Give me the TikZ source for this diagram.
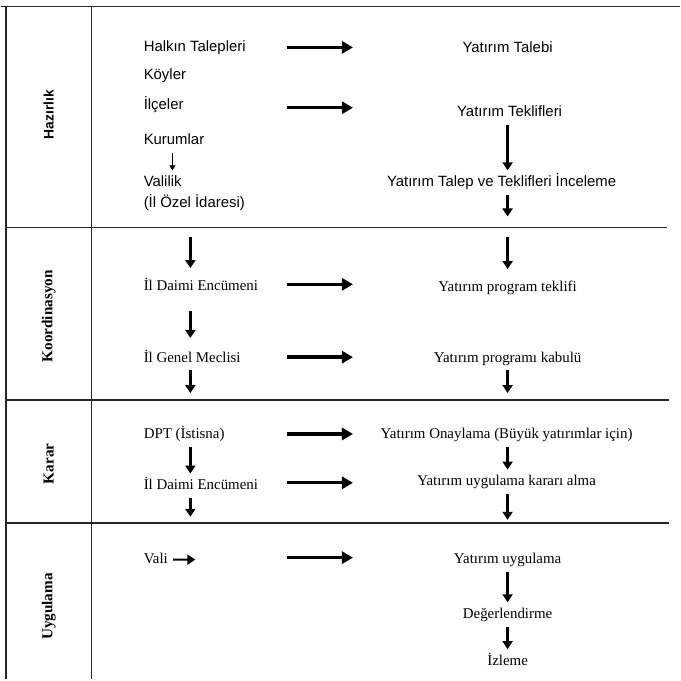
\documentclass[tikz,border=0pt]{standalone}
\usepackage{fontspec}
\setmainfont{Liberation Serif}
\newfontfamily\arialfont{Liberation Sans}
\usetikzlibrary{arrows.meta}

\tikzset{
  rule/.style={line width=1.2pt, black!85},
  harrow/.style={line width=2.4pt, -{Triangle[length=0.11in,width=0.12in]}},
  varrow/.style={line width=2.1pt, -{Triangle[length=0.08in,width=0.1in]}},
  smallarrow/.style={line width=1pt, -{Triangle[length=0.05in,width=0.06in]}},
  lbl/.style={inner sep=0.05in, text height=0.11in, text depth=0.03in,
    font=\fontsize{10.8}{13}\selectfont},
  sanslbl/.style={lbl, font=\arialfont\fontsize{10.8}{13}\selectfont},
  phase/.style={rotate=90, inner sep=0pt, font=\bfseries\fontsize{11}{13}\selectfont},
  sansphase/.style={rotate=90, inner sep=0pt, font=\arialfont\bfseries\fontsize{10}{12}\selectfont}
}

\begin{document}
\begin{tikzpicture}[x=1in,y=1in]
\path (0,0) -- (6.81,-6.81);
% table rules
\draw[rule] (0.00,-0.065) -- (6.81,-0.065);
\draw[rule] (0.05,-0.065) -- (0.05,-6.81);
\draw[rule] (0.91,-0.065) -- (0.91,-6.81);
\draw[rule] (0.05,-2.28) -- (6.68,-2.28);
\draw[rule] (0.05,-4.01) -- (6.70,-4.01);
\draw[rule] (0.05,-5.24) -- (6.70,-5.24);

% phase names
\node[sansphase] (hazirlik) at (0.48,-1.15) {Hazırlık};
\node[phase] (koord) at (0.48,-3.17) {Koordinasyon};
\node[phase] (karar) at (0.48,-4.65) {Karar};
\node[phase] (uygulama) at (0.48,-6.08) {Uygulama};

% column axes
\coordinate (lax) at (1.90,0);
\coordinate (kax) at (1.72,0);
\coordinate (rax) at (5.08,0);

% Hazirlik
\node[sanslbl, anchor=base west] (halk) at (1.38,-0.52) {Halkın Talepleri};
\node[sanslbl, anchor=base west] (koyler) at (1.38,-0.80) {Köyler};
\node[sanslbl, anchor=base west] (ilceler) at (1.38,-1.10) {İlçeler};
\node[sanslbl, anchor=base west] (kurumlar) at (1.38,-1.45) {Kurumlar};
\node[sanslbl, anchor=base west] (valilik) at (1.38,-1.87) {Valilik};
\node[sanslbl, anchor=base west] (ozel) at (1.38,-2.08) {(İl Özel İdaresi)};
\node[sanslbl, anchor=base] (talebi) at (5.08,-0.53) {Yatırım Talebi};
\node[sanslbl, anchor=base] (teklif) at (5.10,-1.17) {Yatırım Teklifleri};
\node[sanslbl, anchor=base] (incele) at (5.02,-1.87) {Yatırım Talep ve Teklifleri İnceleme};

% Koordinasyon
\node[lbl, anchor=base west] (daimiA) at (1.38,-2.91) {İl Daimi Encümeni};
\node[lbl, anchor=base west] (meclis) at (1.38,-3.63) {İl Genel Meclisi};
\node[lbl, anchor=base] (progtek) at (5.08,-2.92) {Yatırım program teklifi};
\node[lbl, anchor=base] (kabul) at (5.08,-3.63) {Yatırım programı kabulü};

% Karar
\node[lbl, anchor=base west] (dpt) at (1.38,-4.40) {DPT (İstisna)};
\node[lbl, anchor=base west] (daimiB) at (1.38,-4.91) {İl Daimi Encümeni};
\node[lbl, anchor=base] (onay) at (5.07,-4.40) {Yatırım Onaylama (Büyük yatırımlar için)};
\node[lbl, anchor=base] (kararal) at (5.07,-4.87) {Yatırım uygulama kararı alma};

% Uygulama
\node[lbl, anchor=base west] (vali) at (1.38,-5.65) {Vali};
\node[lbl, anchor=base] (uygula) at (5.08,-5.65) {Yatırım uygulama};
\node[lbl, anchor=base] (degerl) at (5.08,-6.20) {Değerlendirme};
\node[lbl, anchor=base] (izle) at (5.08,-6.67) {İzleme};

% free arrow ends
\coordinate (hs1) at (2.87,-0.475); \coordinate (he1) at (3.53,-0.475);
\coordinate (hs2) at (2.87,-1.08); \coordinate (he2) at (3.53,-1.08);
\coordinate (hs3) at (2.87,-2.85); \coordinate (he3) at (3.53,-2.85);
\coordinate (hs4) at (2.87,-3.58); \coordinate (he4) at (3.53,-3.58);
\coordinate (hs5) at (2.87,-4.35); \coordinate (he5) at (3.53,-4.35);
\coordinate (hs6) at (2.87,-4.84); \coordinate (he6) at (3.53,-4.84);
\coordinate (hs7) at (2.87,-5.59); \coordinate (he7) at (3.53,-5.59);
\coordinate (l2top) at (1.90,-2.38);
\coordinate (l2bot) at (1.90,-3.94);
\coordinate (l3bot) at (1.90,-5.18);
\coordinate (r1bot) at (5.08,-2.17);
\coordinate (r2top) at (5.08,-2.38);
\coordinate (r2bot) at (5.08,-3.94);
\coordinate (r3bot) at (5.08,-5.21);
\coordinate (valiend) at (1.95,-5.61);

% horizontal arrows
\draw[harrow] (hs1) -- (he1);
\draw[harrow] (hs2) -- (he2);
\draw[harrow] (hs3) -- (he3);
\draw[harrow] (hs4) -- (he4);
\draw[harrow] (hs5) -- (he5);
\draw[harrow] (hs6) -- (he6);
\draw[harrow] (hs7) -- (he7);

% left column arrows
\draw[smallarrow] (kurumlar.south -| kax) -- (valilik.north -| kax);
\draw[varrow] (l2top) -- ([yshift=0.06in]daimiA.north -| lax);
\draw[varrow, shorten <=0.12in, shorten >=0.08in] (daimiA.south -| lax) -- (meclis.north -| lax);
\draw[varrow] (meclis.south -| lax) -- (l2bot);
\draw[varrow] (dpt.south -| lax) -- (daimiB.north -| lax);
\draw[varrow] (daimiB.south -| lax) -- (l3bot);
\draw[varrow, line width=1.6pt] (vali.east) -- (valiend);

% right column arrows
\draw[varrow] (teklif.south -| rax) -- (incele.north -| rax);
\draw[varrow] (incele.south -| rax) -- (r1bot);
\draw[varrow] (r2top) -- ([yshift=0.06in]progtek.north);
\draw[varrow] (kabul.south) -- (r2bot);
\draw[varrow] (onay.south -| rax) -- (kararal.north -| rax);
\draw[varrow] (kararal.south -| rax) -- (r3bot);
\draw[varrow] (uygula.south) -- (degerl.north);
\draw[varrow] (degerl.south) -- (izle.north);
\end{tikzpicture}
\end{document}
